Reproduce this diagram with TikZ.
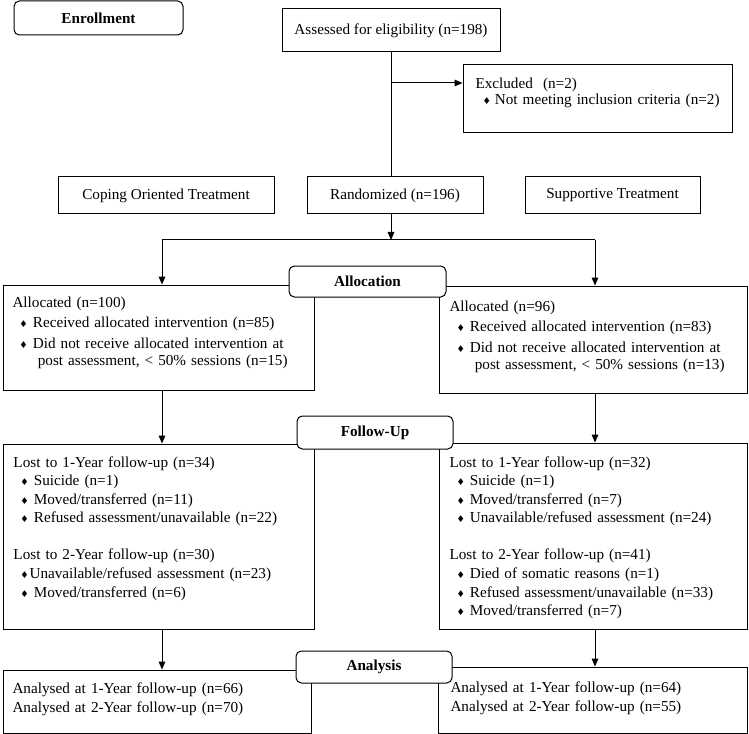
\documentclass[tikz,border=0pt]{standalone}
\usepackage{fontspec}
\setmainfont{Liberation Serif}
\newfontfamily\suitfont{DejaVu Sans}
\usetikzlibrary{arrows.meta}

\newcommand{\itm}[1][3.75pt]{\hspace*{5.25pt}{\suitfont\fontsize{7}{7}\selectfont ♦}\hspace{#1}}

\tikzset{every picture/.style={line width=0.75pt}}
\tikzset{
  box/.style={draw, inner sep=0pt, font=\fontsize{11.4}{13}\selectfont},
  stage/.style={draw, fill=white, rounded corners=4pt, inner sep=0pt, font=\fontsize{11.4}{13}\selectfont\bfseries},
  txt/.style={anchor=base west, inner sep=0pt, text width=228pt, align=left, font=\fontsize{11.4}{13}\selectfont},
  arr/.style={-{Triangle[length=6pt,width=5pt]}}
}

\begin{document}
\begin{tikzpicture}[x=0.75pt,y=0.75pt,yscale=-1,xscale=1]
\useasboundingbox (0,0) rectangle (749,734);

% Text Node
\node[stage, minimum width=126.75pt, minimum height=25.5pt] (enroll) at (98.5,18) {Enrollment};
% Text Node
\node[box, minimum width=163.5pt, minimum height=32.25pt] (assess) at (391,30.5) {Assessed for eligibility (n=198)};
% Text Node
\node[box, minimum width=201.75pt, minimum height=51pt] (excl) at (597.5,99) {};
\node[txt] (excltxt) at (475,89) {Excluded\ \ (n=2)\\[-1.5pt]\itm[3pt]Not meeting inclusion criteria (n=2)};
% Text Node
\node[box, minimum width=162pt, minimum height=27.75pt] (coping) at (166,195.5) {Coping Oriented Treatment};
\node[box, minimum width=132pt, minimum height=27.75pt] (rand) at (395,195.5) {Randomized (n=196)};
\node[box, minimum width=131.25pt, minimum height=27.75pt] (supp) at (612.5,195.5) {Supportive Treatment};

% Text Node
\node[box, minimum width=233.25pt, minimum height=78.75pt] (allocL) at (158.5,337.5) {};
\node[txt] (allocLtxt) at (12,307) {Allocated (n=100)\\[2.5pt]
\itm Received allocated intervention (n=85)\\[2.5pt]
\itm Did not receive allocated intervention at\\
\hspace*{19pt}post assessment, < 50\% sessions (n=15)};
\node[box, minimum width=231pt, minimum height=80.25pt] (allocR) at (593,339.5) {};
\node[txt] (allocRtxt) at (449,311) {Allocated (n=96)\\[2.5pt]
\itm Received allocated intervention (n=83)\\[2.5pt]
\itm Did not receive allocated intervention at\\
\hspace*{19pt}post assessment, < 50\% sessions (n=13)};
\node[stage, minimum width=117.75pt, minimum height=23.25pt] (allocation) at (367.5,281.5) {Allocation};

% Text Node
\node[box, minimum width=233.25pt, minimum height=138.75pt] (folL) at (158.5,536.5) {};
\node[txt] (folLtxt) at (13,467) {Lost to 1-Year follow-up (n=34)\\[0.9pt]
\itm Suicide (n=1)\\[0.9pt]
\itm Moved/transferred (n=11)\\[0.9pt]
\itm Refused assessment/unavailable (n=22)\\[15pt]
Lost to 2-Year follow-up (n=30)\\[0.9pt]
\itm[0.5pt]Unavailable/refused assessment (n=23)\\[0.9pt]
\itm Moved/transferred (n=6)};
\node[box, minimum width=231pt, minimum height=139.5pt] (folR) at (593,536) {};
\node[txt] (folRtxt) at (449,467) {Lost to 1-Year follow-up (n=32)\\[0.9pt]
\itm Suicide (n=1)\\[0.9pt]
\itm Moved/transferred (n=7)\\[0.9pt]
\itm Unavailable/refused assessment (n=24)\\[15pt]
Lost to 2-Year follow-up (n=41)\\[0.9pt]
\itm Died of somatic reasons (n=1)\\[0.9pt]
\itm Refused assessment/unavailable (n=33)\\[0.9pt]
\itm Moved/transferred (n=7)};
\node[stage, minimum width=117pt, minimum height=24.75pt] (followup) at (375,432.5) {Follow-Up};

% Text Node
\node[box, minimum width=231pt, minimum height=47.25pt] (anaL) at (157,701.5) {};
\node[txt] (anaLtxt) at (12,693) {Analysed at 1-Year follow-up (n=66)\\[1.25pt]
Analysed at 2-Year follow-up (n=70)};
\node[box, minimum width=231.75pt, minimum height=49.5pt] (anaR) at (592.5,700) {};
\node[txt] (anaRtxt) at (450,692) {Analysed at 1-Year follow-up (n=64)\\[1.25pt]
Analysed at 2-Year follow-up (n=55)};
\node[stage, minimum width=117pt, minimum height=24pt] (analysis) at (374,667) {Analysis};

\coordinate (colL) at (162,0);
\coordinate (colR) at (595,0);
\coordinate (split) at (391,240);
\coordinate (exclin) at ([yshift=-12pt]excl.west);

% Connection
\draw (assess.south) -- (assess.south |- rand.north);
\draw[arr] (assess.south |- exclin) -- (exclin);
% Connection
\draw[arr] (assess.south |- rand.south) -- (split);
\draw (colL |- split) -- (colR |- split);
\draw[arr] (colL |- split) -- (colL |- allocL.north);
\draw[arr] (colR |- split) -- (colR |- allocR.north);
% Connection
\draw[arr] (colL |- allocL.south) -- (colL |- folL.north);
\draw[arr] (colR |- allocR.south) -- (colR |- folR.north);
% Connection
\draw[arr] (colL |- folL.south) -- (colL |- anaL.north);
\draw[arr] (colR |- folR.south) -- (colR |- anaR.north);

\end{tikzpicture}
\end{document}
